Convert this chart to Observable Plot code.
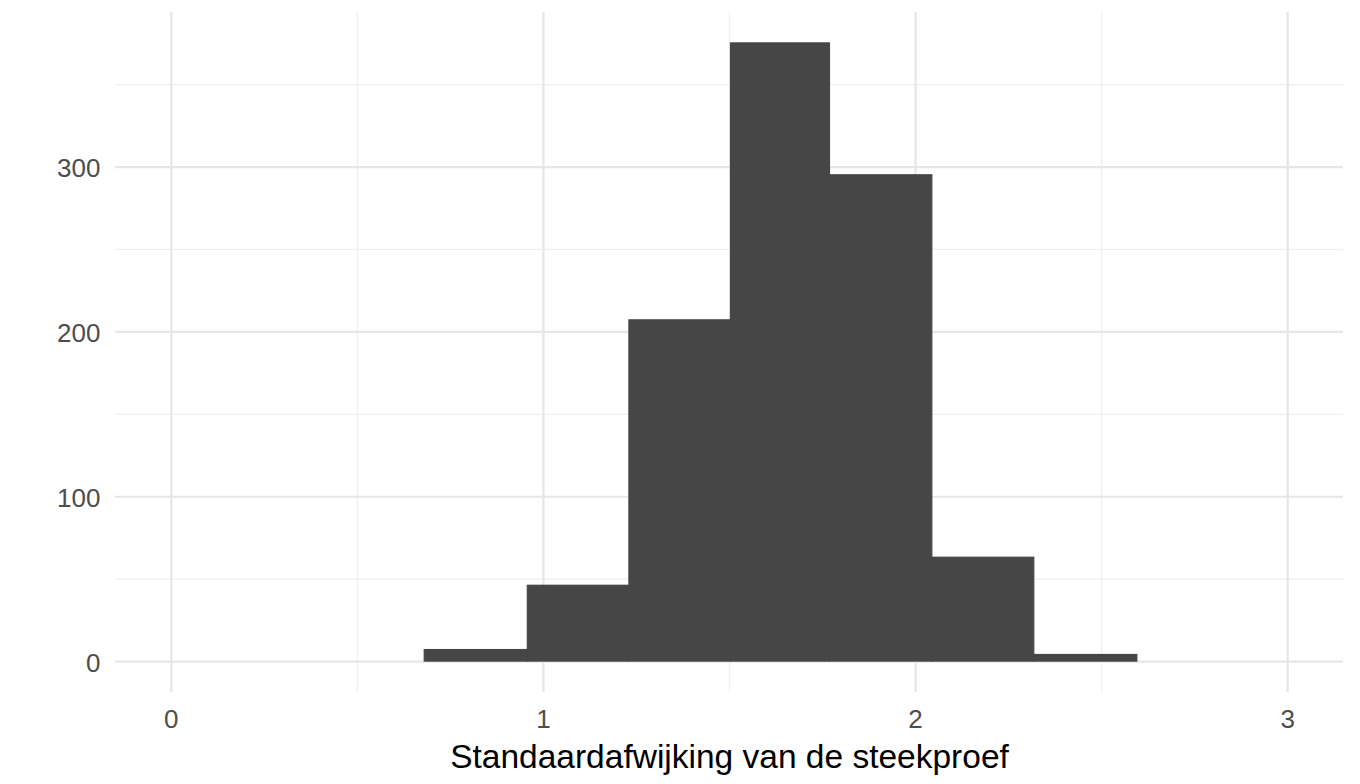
<!DOCTYPE html>
<html>
<head>
<meta charset="utf-8">
<script src="https://cdn.jsdelivr.net/npm/d3@7"></script>
<script src="https://cdn.jsdelivr.net/npm/@observablehq/plot@0.6"></script>
<style>
  html, body { margin: 0; padding: 0; background: #ffffff; }
  #chart svg { display: block; }
</style>
</head>
<body>
<div id="chart"></div>
<script>
// Histogram bins (edges) and counts
const binEdges = [0.681, 0.958, 1.231, 1.504, 1.770, 2.045, 2.319, 2.596];
const counts = [7, 46, 207, 375, 295, 63, 4];

const xTicks = [0, 1, 2, 3];
const xMinor = [0.5, 1.5, 2.5];
const yTicks = [0, 100, 200, 300];
const yMinor = [50, 150, 250, 350];
const xTitle = "Standaardafwijking van de steekproef";

const bins = counts.map((c, i) => ({x1: binEdges[i], x2: binEdges[i + 1], count: c}));

const font = "'Liberation Sans', Arial, Helvetica, sans-serif";

const chart = Plot.plot({
  width: 1360,
  height: 784,
  marginLeft: 115,
  marginRight: 17,
  marginTop: 12,
  marginBottom: 92,
  style: {fontFamily: font, background: "#ffffff"},
  x: {domain: [-0.15, 3.15], axis: null},
  y: {domain: [-18.75, 393.75], axis: null},
  marks: [
    Plot.ruleY(yMinor, {stroke: "#efefef", strokeWidth: 1.3}),
    Plot.ruleX(xMinor, {stroke: "#efefef", strokeWidth: 1.3}),
    Plot.ruleY(yTicks, {stroke: "#e6e6e6", strokeWidth: 2.2}),
    Plot.ruleX(xTicks, {stroke: "#e6e6e6", strokeWidth: 2.2}),
    Plot.rectY(bins, {x1: "x1", x2: "x2", y1: 0, y2: "count", fill: "#464646", stroke: "#464646", strokeWidth: 1.2}),
    Plot.text(yTicks, {y: d => d, frameAnchor: "left", textAnchor: "end", dx: -15, dy: 2, text: d => String(d), fontSize: 26, fill: "#4d4d4d"}),
    Plot.text(xTicks, {x: d => d, frameAnchor: "bottom", lineAnchor: "bottom", dy: 35, text: d => String(d), fontSize: 26, fill: "#4d4d4d"}),
    Plot.text([xTitle], {frameAnchor: "bottom", lineAnchor: "bottom", dy: 75, text: d => d, fontSize: 33.5, fill: "#000000"})
  ]
});

document.getElementById("chart").appendChild(chart);
</script>
</body>
</html>
